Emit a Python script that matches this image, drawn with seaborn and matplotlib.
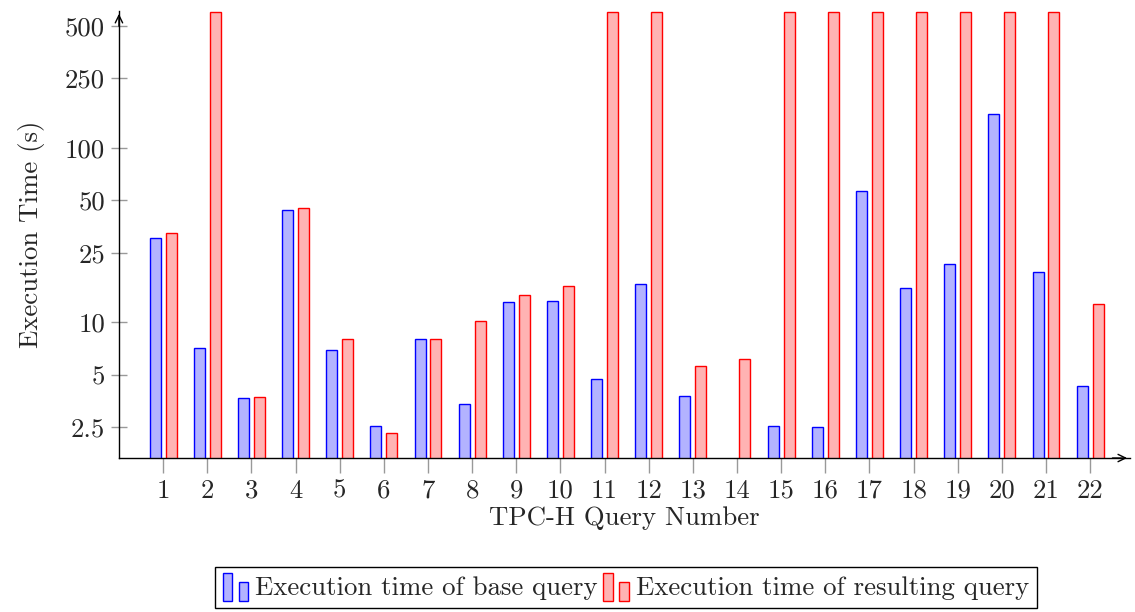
import numpy as np
import pandas as pd
import seaborn as sns
import matplotlib
matplotlib.use("Agg")
import matplotlib.pyplot as plt
from matplotlib.patches import Patch, Rectangle
from matplotlib.legend_handler import HandlerBase
from matplotlib.ticker import FixedLocator, NullLocator

# TPC-H query numbers and execution times (s)
queries = ['1', '2', '3', '4', '5', '6', '7', '8', '9', '10', '11',
           '12', '13', '14', '15', '16', '17', '18', '19', '20', '21', '22']
base_times = [30.6, 7.1, 3.68, 44.2, 6.92, 2.55, 8.0, 3.40, 13.0, 13.2, 4.72,
              16.5, 3.78, 1.65, 2.55, 2.52, 56.8, 15.8, 21.7, 156, 19.3, 4.31]
# 600 = bar runs off the top of the chart (timeout)
result_times = [32.3, 600, 3.72, 45.4, 8.0, 2.32, 8.0, 10.1, 14.3, 16.1, 600,
                600, 5.61, 6.15, 600, 600, 600, 600, 600, 600, 600, 12.7]
series_names = ['Execution time of base query', 'Execution time of resulting query']
y_ticks = [2.5, 5, 10, 25, 50, 100, 250, 500]
y_tick_labels = ['2.5', '5', '10', '25', '50', '100', '250', '500']

fills = ['#b3b3ff', '#ffb3b3']
edges = ['blue', 'red']

df = pd.DataFrame({
    'query': queries * 2,
    'time': base_times + result_times,
    'series': [series_names[0]] * len(queries) + [series_names[1]] * len(queries),
})

sns.set_theme(style='white')
plt.rcParams['font.family'] = ['cmr10', 'DejaVu Serif']
plt.rcParams['axes.formatter.use_mathtext'] = True
FS = 19.3

fig = plt.figure(figsize=(11.35, 6.12), dpi=100)
ax = fig.add_axes([0.1048, 0.2516, 0.8907, 0.7304])

sns.barplot(data=df, x='query', y='time', hue='series', hue_order=series_names,
            palette=fills, saturation=1, width=0.72, gap=0.31, errorbar=None,
            legend=False, ax=ax)
ax.set_yscale('log')

for container, ec in zip(ax.containers, edges):
    for bar in container:
        bar.set_edgecolor(ec)
        bar.set_linewidth(1.0)

ax.set_xlim(-1.0, 21.9)
ax.set_ylim(1.665, 609)
ax.yaxis.set_major_locator(FixedLocator(y_ticks))
ax.yaxis.set_minor_locator(NullLocator())
ax.set_yticklabels(y_tick_labels)

for s in ['top', 'right']:
    ax.spines[s].set_visible(False)
for s in ['left', 'bottom']:
    ax.spines[s].set_color('black')
    ax.spines[s].set_linewidth(1.0)

ax.tick_params(axis='x', direction='out', length=11, width=1, color='#999999',
               labelsize=FS, pad=4, bottom=True)
ax.tick_params(axis='y', direction='inout', length=12, width=1, color='#999999',
               labelsize=FS, pad=4, left=True)

ax.set_xlabel('TPC-H Query Number', fontsize=FS, labelpad=3)
ax.set_ylabel('Execution Time (s)', fontsize=FS, labelpad=14)

# axis arrows
arrow = dict(arrowstyle='->,head_length=0.45,head_width=0.22', lw=1.0, color='black')
ax.annotate('', xy=(1, 0), xycoords='axes fraction', xytext=(0.98, 0),
            arrowprops=arrow, annotation_clip=False)
ax.annotate('', xy=(0, 1), xycoords='axes fraction', xytext=(0, 0.96),
            arrowprops=arrow, annotation_clip=False)


class TwoBarHandler(HandlerBase):
    def create_artists(self, legend, orig_handle, xdescent, ydescent,
                       width, height, fontsize, trans):
        fc = orig_handle.get_facecolor()
        ec = orig_handle.get_edgecolor()
        w = width * 0.37
        y0 = -ydescent - 0.25 * height
        tall = Rectangle((-xdescent, y0), w, height * 1.35,
                         facecolor=fc, edgecolor=ec, lw=1, transform=trans)
        short = Rectangle((-xdescent + width * 0.63, y0), w, height * 0.92,
                          facecolor=fc, edgecolor=ec, lw=1, transform=trans)
        return [tall, short]


handles = [Patch(facecolor=f, edgecolor=e) for f, e in zip(fills, edges)]
leg = fig.legend(handles=handles, labels=series_names, ncol=2,
                 loc='upper center', bbox_to_anchor=(0.5515, 0.0735),
                 handler_map={Patch: TwoBarHandler()}, fontsize=FS,
                 frameon=True, fancybox=False, framealpha=1, edgecolor='black',
                 borderpad=0.3, handlelength=0.95, handleheight=0.8,
                 handletextpad=0.27, columnspacing=0.2, borderaxespad=0)
leg.get_frame().set_linewidth(1.0)

fig.savefig('out.png', dpi=100)
